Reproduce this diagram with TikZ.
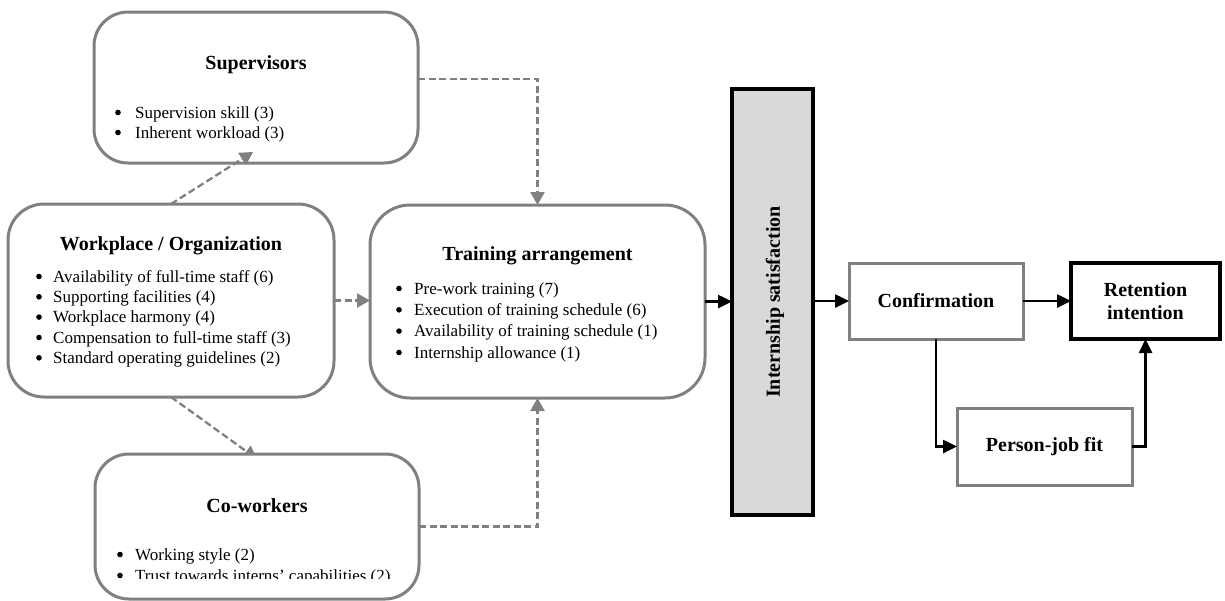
\documentclass[tikz,border=0pt]{standalone}
\usepackage{fontspec}
\setmainfont{Liberation Serif}
\usetikzlibrary{arrows.meta,calc,backgrounds}
\definecolor{grayline}{RGB}{128,128,128}
\definecolor{barfill}{RGB}{217,217,217}
\tikzset{
  rbox/.style={draw=grayline, line width=3pt, rounded corners=34pt, fill=white, inner sep=0pt, outer sep=0pt},
  gbox/.style={draw=grayline, line width=3pt, fill=white, inner sep=0pt, outer sep=0pt, font=\fontsize{20}{23}\selectfont\bfseries, align=center},
  kbox/.style={draw=black, line width=3.5pt, fill=white, inner sep=0pt, outer sep=0pt, font=\fontsize{20}{23}\selectfont\bfseries, align=center},
  titletext/.style={anchor=base, inner sep=0pt, font=\fontsize{20}{24}\selectfont\bfseries},
  itemtext/.style={anchor=base west, inner sep=0pt, font=\fontsize{17}{20}\selectfont},
  dasharrow/.style={draw=grayline, line width=2.3pt, dash pattern=on 7pt off 3.5pt, -{Triangle[length=13pt,width=14pt]}},
  solidarrow/.style={draw=black, line width=2.5pt, -{Triangle[length=14pt,width=13pt]}},
}
\begin{document}
\begin{tikzpicture}[x=1pt,y=-1pt]
\useasboundingbox (0,0) rectangle (1225,600);

% Supervisors
\node[rbox, minimum width=324pt, minimum height=151pt] (sup) at (256,87.5) {};
\node[titletext] (supT) at (256,69) {Supervisors};
\node[itemtext] (sup1) at (135,118) {Supervision skill (3)};
\node[itemtext] (sup2) at (135,138) {Inherent workload (3)};

% Workplace / Organization
\node[rbox, rounded corners=36pt, minimum width=326pt, minimum height=193pt] (wp) at (171,300.5) {};
\node[titletext] (wpT) at (171,250) {Workplace / Organization};
\node[itemtext] (wp1) at (53,282) {Availability of full-time staff (6)};
\node[itemtext] (wp2) at (53,302.3) {Supporting facilities (4)};
\node[itemtext] (wp3) at (53,322.6) {Workplace harmony (4)};
\node[itemtext] (wp4) at (53,343) {Compensation to full-time staff (3)};
\node[itemtext] (wp5) at (53,363.3) {Standard operating guidelines (2)};

% Training arrangement
\node[rbox, rounded corners=40pt, minimum width=335pt, minimum height=193pt] (tr) at (537.5,301.5) {};
\node[titletext] (trT) at (537.5,260) {Training arrangement};
\node[itemtext] (tr1) at (414,294) {Pre-work training (7)};
\node[itemtext] (tr2) at (414,315.3) {Execution of training schedule (6)};
\node[itemtext] (tr3) at (414,336.6) {Availability of training schedule (1)};
\node[itemtext] (tr4) at (414,358) {Internship allowance (1)};

% Co-workers
\node[rbox, minimum width=324pt, minimum height=145pt] (co) at (257,526.5) {};
\node[titletext] (coT) at (257,512) {Co-workers};
\node[itemtext] (co1) at (135,560) {Working style (2)};
\begin{scope}
  \clip (0,0) rectangle (1225,578);
  \node[itemtext] (co2) at (135,581) {Trust towards interns' capabilities (2)};
  \fill ($(co2.base west)+(-15,-5.5)$) circle (2.8pt);
\end{scope}

% bullet dots
\foreach \n/\d in {sup1/17,sup2/17,wp1/14,wp2/14,wp3/14,wp4/14,wp5/14,tr1/15,tr2/15,tr3/15,tr4/15,co1/15}
  \fill ($(\n.base west)+(-\d,-5.5)$) circle (2.8pt);

% Internship satisfaction bar
\node[draw=black, line width=3.5pt, fill=barfill, inner sep=0pt, outer sep=0pt,
      minimum width=81pt, minimum height=426pt] (bar) at (772.5,302) {};
\node[inner sep=0pt, rotate=90, font=\fontsize{20}{24}\selectfont\bfseries] (barT) at (775,302) {Internship satisfaction};

% Right boxes
\node[gbox, minimum width=174pt, minimum height=76pt] (conf) at (936,301) {Confirmation};
\node[kbox, minimum width=149pt, minimum height=76pt] (ret) at (1145.5,301) {Retention\\intention};
\node[gbox, minimum width=175pt, minimum height=77pt] (pjf) at (1044.5,446.5) {Person-job fit};

% Dashed grey connectors
\draw[dasharrow] ($(sup.east)+(0,-8.5)$) -| (tr.north);
\draw[dasharrow] (wp.east) -- (tr.west |- wp.east);
\draw[dasharrow] (co.east) -| (tr.south);
\draw[dasharrow] (wp.north) -- ($(sup.south)+(-3,-11)$);
\begin{pgfonlayer}{background}
  \draw[dasharrow] (wp.south) -- ($(co.north)+(0,5)$);
\end{pgfonlayer}

% Solid black connectors
\draw[solidarrow] (tr.east) -- (tr.east -| bar.west);
\draw[solidarrow] (bar.east |- conf.west) -- (conf.west);
\draw[solidarrow] (conf.east) -- (ret.west);
\draw[solidarrow] (conf.south) |- (pjf.west);
\draw[solidarrow] (pjf.east) -| (ret.south);
\end{tikzpicture}
\end{document}
